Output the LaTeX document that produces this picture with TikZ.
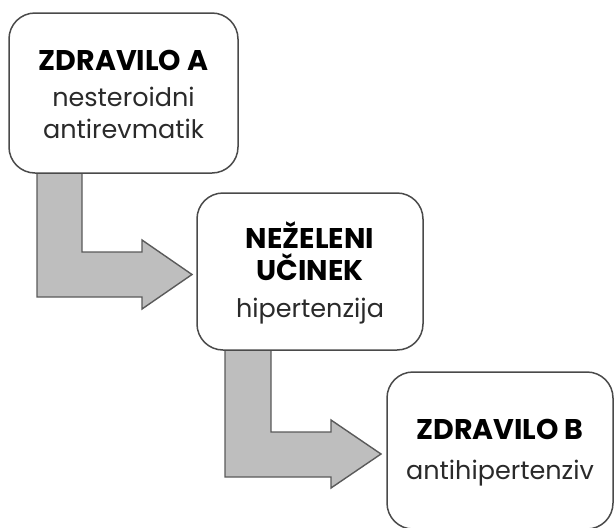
\documentclass[tikz,border=0pt]{standalone}
\usepackage{fontspec}
\setmainfont{Poppins}
\definecolor{boxline}{HTML}{4A4A4A}
\definecolor{arrfill}{HTML}{BEBEBE}
\definecolor{arrline}{HTML}{5A5A5A}
\definecolor{txtreg}{HTML}{2A2A2A}
\tikzset{
  boxframe/.style={draw=boxline, line width=1.5pt, rounded corners=26pt, fill=white},
  blockarrow/.style={draw=arrline, line width=1.4pt, fill=arrfill, line join=miter},
  bold/.style={font=\fontsize{28.5}{32}\selectfont\bfseries, align=center, inner sep=0pt},
}
\newcommand{\regtxt}{\fontsize{25.5}{31}\selectfont\mdseries\color{txtreg}}
\begin{document}
\begin{tikzpicture}[x=1pt,y=-1pt]
\useasboundingbox (0,0) rectangle (614,528);
\clip (0,0) rectangle (614,528);
% block arrows
\draw[blockarrow] (37,172) -- (82,172) -- (82,252) -- (142,252) -- (142,240) -- (192,274.5)
  -- (142,309) -- (142,297) -- (37,297) -- cycle;
\draw[blockarrow] (225,349) -- (271,349) -- (271,432) -- (331,432) -- (331,420) -- (381,454)
  -- (331,488) -- (331,477) -- (225,477) -- cycle;
% boxes
\draw[boxframe] (9,13) rectangle (238,173);
\node (A) [bold] at (123.5,94) {ZDRAVILO A\\[4pt]{\regtxt nesteroidni}\\{\regtxt antirevmatik}};
\draw[boxframe] (197,193) rectangle (423,350);
\node (N) [bold] at (310,273) {NEŽELENI\\UČINEK\\[5pt]{\regtxt hipertenzija}};
\draw[boxframe] (387,372) rectangle (613,529);
\node (B) [bold] at (500,452.5) {ZDRAVILO B\\[8pt]{\regtxt antihipertenziv}};
\end{tikzpicture}
\end{document}
